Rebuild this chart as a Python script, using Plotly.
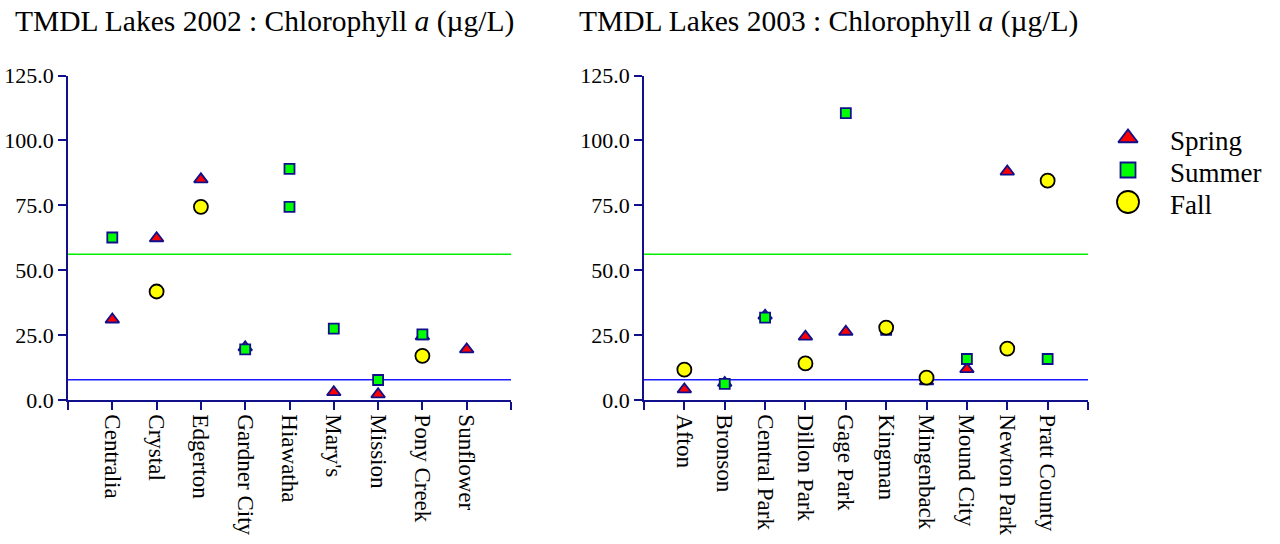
import plotly.graph_objects as go

# ---------------- data ----------------
lakes_2002 = ["Centralia", "Crystal", "Edgerton", "Gardner City", "Hiawatha",
              "Mary's", "Mission", "Pony Creek", "Sunflower"]
spring_2002 = [31.0, 62.3, 85.0, 20.3, None, 3.0, 2.2, 24.5, 19.5]
summer_2002 = [62.6, None, None, 19.5, 89.0, 27.5, 7.7, 25.3, None]
summer_2002_b = [None, None, None, None, 74.4, None, None, None, None]
fall_2002 = [None, 41.8, 74.4, None, None, None, None, 17.0, None]

lakes_2003 = ["Afton", "Bronson", "Central Park", "Dillon Park", "Gage Park",
              "Kingman", "Mingenback", "Mound City", "Newton Park", "Pratt County"]
spring_2003 = [4.1, 6.6, 32.5, 24.4, 26.3, None, 7.2, 11.9, 88.0, None]
summer_2003 = [None, 6.2, 31.7, None, 110.5, 27.0, None, 15.8, None, 15.8]
fall_2003 = [11.7, None, None, 14.1, None, 27.9, 8.6, None, 19.8, 84.5]

upper_ref = 56.1
lower_ref = 7.8
y_ticks = [0, 25, 50, 75, 100, 125]
legend_names = ["Spring", "Summer", "Fall"]

titles = ["TMDL Lakes 2002 : Chlorophyll <i>a</i> (µg/L)",
          "TMDL Lakes 2003 : Chlorophyll <i>a</i> (µg/L)"]

# ---------------- styles ----------------
FONT = "Liberation Serif, Times New Roman, serif"
NAVY = "#10108c"
tri = dict(symbol="triangle-up", size=12, color="#ff0000", line=dict(color=NAVY, width=1.8))
sq = dict(symbol="square", size=10, color="#00ff00", line=dict(color=NAVY, width=1.8))
circ = dict(symbol="circle", size=14, color="#ffff00", line=dict(color="#000000", width=1.8))
leg_styles = [dict(tri, size=17), dict(sq, size=15), dict(circ, size=22)]

fig = go.Figure()

def add_panel(cats, series, xa, ya):
    xs = list(range(1, len(cats) + 1))
    n = len(cats)
    for val, col in [(upper_ref, "#00ee00"), (lower_ref, "#1a1aff")]:
        fig.add_trace(go.Scatter(x=[0, n + 1], y=[val, val], mode="lines",
                                 line=dict(color=col, width=1.5), xaxis=xa, yaxis=ya,
                                 showlegend=False, hoverinfo="skip"))
    for name, vals, mk in series:
        fig.add_trace(go.Scatter(
            x=xs, y=vals, mode="markers", name=name, marker=mk,
            xaxis=xa, yaxis=ya, showlegend=False, cliponaxis=False))

add_panel(lakes_2002, [("Fall", fall_2002, circ),
                       ("Spring", spring_2002, tri),
                       ("Summer", summer_2002, sq),
                       ("Summer", summer_2002_b, sq)], "x", "y")
add_panel(lakes_2003, [("Spring", spring_2003, tri),
                       ("Summer", summer_2003, sq),
                       ("Fall", fall_2003, circ)], "x2", "y2")

# legend key (hidden axis)
for i, (nm, st) in enumerate(zip(legend_names, leg_styles)):
    fig.add_trace(go.Scatter(x=[0.5], y=[i], mode="markers", marker=st,
                             xaxis="x3", yaxis="y3", showlegend=False,
                             hoverinfo="skip", cliponaxis=False))

ydom = [(544 - 400) / 544, (544 - 75.5) / 544]

def xaxis_cfg(cats, dom, anchor):
    n = len(cats)
    return dict(domain=dom, range=[0, n + 1], anchor=anchor, tickmode="array",
                tickvals=list(range(0, n + 2)), ticktext=[""] + cats + [""],
                tickangle=90, showline=True, linecolor=NAVY, linewidth=1.5,
                ticks="outside", ticklen=8, tickwidth=1.5, tickcolor=NAVY,
                showgrid=False, zeroline=False, automargin=False,
                tickfont=dict(family=FONT, size=23, color="black"))

def yaxis_cfg(anchor):
    return dict(domain=ydom, range=[0, 125], anchor=anchor, tickmode="array",
                tickvals=y_ticks, tickformat=".1f", showline=True, linecolor=NAVY,
                linewidth=1.5, ticks="outside", ticklen=8, tickwidth=1.5,
                tickcolor=NAVY, showgrid=False, zeroline=False, automargin=False,
                tickfont=dict(family=FONT, size=22, color="black"))

leg_top, leg_step = 138, 32
annotations = [
    dict(text=titles[0], x=13 / 1280, y=(544 - 22) / 544, xref="paper", yref="paper",
         xanchor="left", yanchor="middle", showarrow=False,
         font=dict(family=FONT, size=29.5, color="black")),
    dict(text=titles[1], x=577 / 1280, y=(544 - 22) / 544, xref="paper", yref="paper",
         xanchor="left", yanchor="middle", showarrow=False,
         font=dict(family=FONT, size=29.5, color="black")),
]
for i, nm in enumerate(legend_names):
    annotations.append(dict(text=nm, x=1168 / 1280, y=(544 - (leg_top + 3 + leg_step * i)) / 544,
                            xref="paper", yref="paper", xanchor="left", yanchor="middle",
                            showarrow=False, font=dict(family=FONT, size=27, color="black")))

fig.update_layout(
    width=1280, height=544,
    margin=dict(l=0, r=0, t=0, b=0),
    paper_bgcolor="white", plot_bgcolor="white",
    showlegend=False,
    xaxis=xaxis_cfg(lakes_2002, [68 / 1280, 511 / 1280], "y"),
    yaxis=yaxis_cfg("x"),
    xaxis2=xaxis_cfg(lakes_2003, [644 / 1280, 1088 / 1280], "y2"),
    yaxis2=yaxis_cfg("x2"),
    xaxis3=dict(domain=[1113 / 1280, 1143 / 1280], range=[0, 1], anchor="y3",
                visible=False, fixedrange=True),
    yaxis3=dict(domain=[(544 - (leg_top + 2 * leg_step + 16)) / 544, (544 - (leg_top - 16)) / 544],
                range=[2.5, -0.5], anchor="x3", visible=False, fixedrange=True),
    annotations=annotations,
)

fig.write_html("out.html")
